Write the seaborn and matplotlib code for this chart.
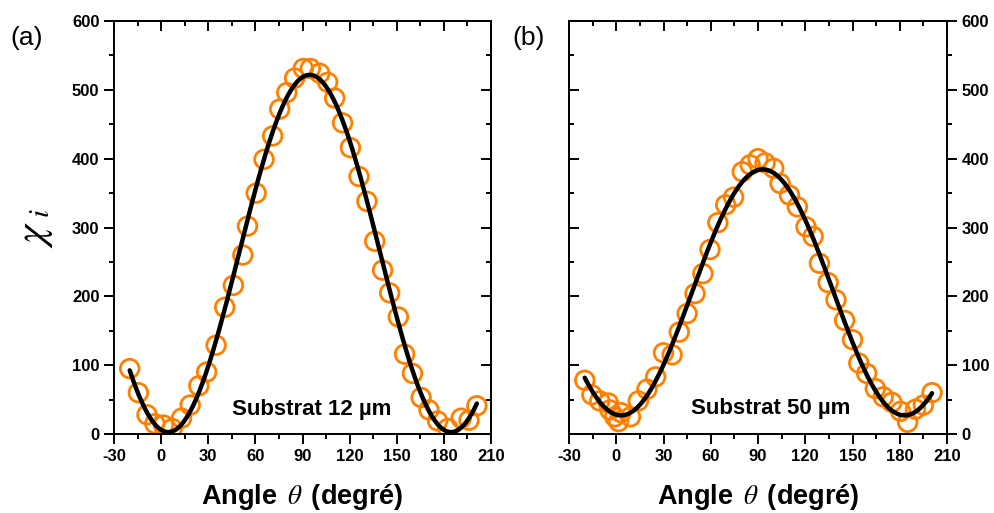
import numpy as np
import pandas as pd
import matplotlib
matplotlib.use("Agg")
import matplotlib.pyplot as plt
import seaborn as sns
from matplotlib.ticker import MultipleLocator

# Measured susceptibility vs. angle, substrate 12 µm
theta_12 = [-20, -14.5, -9, -4, 1.5, 7, 13, 18.5, 24, 29, 35, 40.5, 46, 52, 55, 60.5,
            65.5, 71, 75.5, 80, 85, 90.5, 95, 101, 106, 110.5, 115.5, 120.5, 126, 131,
            136, 141, 145.5, 151, 155, 160, 165.5, 170.5, 176, 182.5, 191, 196, 201]
chi_12 = [95, 60, 28, 15, 13, 8, 23, 42, 70, 90, 129, 184, 216, 260, 302, 350,
          399, 433, 472, 496, 517, 531, 531, 524, 511, 488, 452, 416, 374, 338,
          280, 238, 205, 170, 116, 88, 53, 35, 19, 8, 23, 20, 41]

# Measured susceptibility vs. angle, substrate 50 µm
theta_50 = [-20, -15.5, -10.5, -5, -4, -1, 1.5, 3, 9, 14, 19.5, 25, 30, 35.5, 40, 45,
            50, 55, 59.5, 64.5, 69.5, 74.5, 80, 85, 90, 94.5, 100, 104, 110, 115, 120.5,
            125, 129, 134.5, 139.5, 145, 150, 154, 159, 164.5, 169.5, 175, 180.5, 185,
            190, 195, 200.5]
chi_50 = [78, 57, 48, 45, 35, 25, 18, 31, 25, 48, 65, 83, 118, 115, 148, 175,
          204, 233, 268, 307, 333, 344, 381, 391, 400, 394, 386, 364, 347, 330, 301,
          287, 248, 220, 195, 165, 137, 103, 88, 66, 54, 46, 33, 17,
          36, 42, 60]

x_ticks = [-30, 0, 30, 60, 90, 120, 150, 180, 210]
y_ticks = [0, 100, 200, 300, 400, 500, 600]
panel_tags = ["(a)", "(b)"]
sample_labels = ["Substrat 12 µm", "Substrat 50 µm"]

ORANGE = "#FF8000"
LW = 1.4

sns.set_theme(style="ticks")
plt.rcParams["font.family"] = ["Liberation Sans", "DejaVu Sans"]
plt.rcParams.update({
    "text.color": "black",
    "axes.labelcolor": "black",
    "xtick.color": "black",
    "ytick.color": "black",
    "axes.edgecolor": "black",
    "axes.unicode_minus": False,
})


def cos2_fit(theta, chi, grid):
    """Least-squares fit chi = a + b cos(2θ) + c sin(2θ)."""
    t = np.radians(np.asarray(theta, float))
    A = np.column_stack([np.ones_like(t), np.cos(2 * t), np.sin(2 * t)])
    coef, *_ = np.linalg.lstsq(A, np.asarray(chi, float), rcond=None)
    g = np.radians(grid)
    return coef[0] + coef[1] * np.cos(2 * g) + coef[2] * np.sin(2 * g)


def style_ticks(axis_obj, direction, **kw):
    axis_obj.tick_params(which="both", direction=direction, width=LW, **kw)
    axis_obj.tick_params(which="major", length=7)
    axis_obj.tick_params(which="minor", length=3.8)


fig = plt.figure(figsize=(9.95, 5.13), dpi=100)
ax_a = fig.add_axes([114 / 995, 79 / 513, 377 / 995, 413 / 513])
ax_b = fig.add_axes([569 / 995, 79 / 513, 378 / 995, 413 / 513])

datasets = [(theta_12, chi_12), (theta_50, chi_50)]
text_pos = [(96, 36), (98, 37)]
tag_x = [10 / 995, 512 / 995]

for i, (ax, (th, chi)) in enumerate(zip([ax_a, ax_b], datasets)):
    df = pd.DataFrame({"theta": th, "chi": chi})
    sns.scatterplot(data=df, x="theta", y="chi", ax=ax, s=180,
                    facecolor="none", edgecolor=ORANGE, linewidth=2.0,
                    zorder=2, legend=False)
    grid = np.linspace(min(th), max(th), 400)
    fit = pd.DataFrame({"theta": grid, "chi": cos2_fit(th, chi, grid)})
    sns.lineplot(data=fit, x="theta", y="chi", ax=ax, color="black",
                 linewidth=3.2, zorder=3)

    ax.set_xlim(-30, 210)
    ax.set_ylim(0, 600)
    ax.set_xticks(x_ticks)
    ax.set_yticks(y_ticks)
    ax.xaxis.set_minor_locator(MultipleLocator(15))
    ax.yaxis.set_minor_locator(MultipleLocator(50))
    for sp in ax.spines.values():
        sp.set_visible(True)
        sp.set_linewidth(LW)

    ax.set_xlabel(r"Angle $\,\theta\,$ (degré)", fontsize=19.5, fontweight="bold",
                  labelpad=13, math_fontfamily="stix")
    ax.set_ylabel("")
    ax.text(text_pos[i][0], text_pos[i][1], sample_labels[i], ha="center",
            va="center", fontsize=16, fontweight="bold")
    fig.text(tag_x[i], 1 - 38 / 513, panel_tags[i], fontsize=19,
             ha="left", va="center")

# Panel (a): labelled bottom/left with outward ticks, inward ticks on top/right
style_ticks(ax_a, "out", bottom=True, top=False, left=True, right=False)
sec_a = ax_a.secondary_xaxis("top")
sec_a.set_xticks(x_ticks)
sec_a.xaxis.set_minor_locator(MultipleLocator(15))
style_ticks(sec_a, "in", labeltop=False)
sec_ay = ax_a.secondary_yaxis("right")
sec_ay.set_yticks(y_ticks)
sec_ay.yaxis.set_minor_locator(MultipleLocator(50))
style_ticks(sec_ay, "in", labelright=False)
ax_a.set_ylabel(r"$\chi_{\ i}$", fontsize=30, labelpad=12, math_fontfamily="stix")

# Panel (b): labelled bottom/right with outward ticks, inward ticks on top/left
ax_b.yaxis.tick_right()
style_ticks(ax_b, "out", bottom=True, top=False, right=True, left=False,
            labelright=True, labelleft=False)
sec_b = ax_b.secondary_xaxis("top")
sec_b.set_xticks(x_ticks)
sec_b.xaxis.set_minor_locator(MultipleLocator(15))
style_ticks(sec_b, "in", labeltop=False)
sec_by = ax_b.secondary_yaxis("left")
sec_by.set_yticks(y_ticks)
sec_by.yaxis.set_minor_locator(MultipleLocator(50))
style_ticks(sec_by, "in", labelleft=False)

for sec in (sec_a, sec_ay, sec_b, sec_by):
    for sp in sec.spines.values():
        sp.set_linewidth(LW)

for ax in (ax_a, ax_b):
    for lab in ax.get_xticklabels() + ax.get_yticklabels():
        lab.set_fontweight("bold")
        lab.set_fontsize(12)

fig.savefig("out.png", dpi=100)
